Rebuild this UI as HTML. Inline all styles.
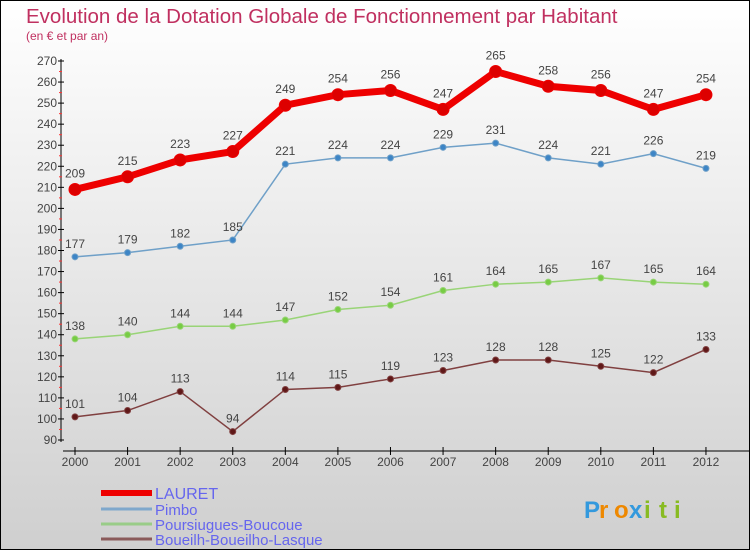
<!DOCTYPE html>
<html><head><meta charset="utf-8"><style>
body{margin:0}
#c{width:748px;height:548px;border:1px solid #000;background:linear-gradient(#fff,#cfcfcf);position:relative;overflow:hidden;font-family:"Liberation Sans",sans-serif}
</style></head><body>
<div id="c">
<svg id="s" width="748" height="548"></svg>
</div>
<script>
const years=[2000,2001,2002,2003,2004,2005,2006,2007,2008,2009,2010,2011,2012];
const lauret=[209,215,223,227,249,254,256,247,265,258,256,247,254];
const pimbo=[177,179,182,185,221,224,224,229,231,224,221,226,219];
const pours=[138,140,144,144,147,152,154,161,164,165,167,165,164];
const boue=[101,104,113,94,114,115,119,123,128,128,125,122,133];
const yTicks=[90,100,110,120,130,140,150,160,170,180,190,200,210,220,230,240,250,260,270];
const NS="http://www.w3.org/2000/svg";
const s=document.getElementById('s');
const X=i=>74+i*52.58;
const Y=v=>439-(v-90)*(379/180);
function el(t,a,p){const e=document.createElementNS(NS,t);for(const k in a)e.setAttribute(k,a[k]);(p||s).appendChild(e);return e;}
function txt(x,y,str,a){const e=el('text',Object.assign({x:x,y:y},a));e.textContent=str;return e;}
let t=txt(25,22,'Evolution de la Dotation Globale de Fonctionnement par Habitant',{fill:'#c03060','font-size':20.5});

t=txt(25,39,'(en € et par an)',{fill:'#c03060','font-size':12});

let ax=el('g',{});
el('line',{x1:60,y1:58,x2:60,y2:441,stroke:'#000'},ax);
yTicks.forEach(v=>{el('line',{x1:57,y1:Y(v),x2:63,y2:Y(v),stroke:'#000'},ax);
 if(v<270)el('line',{x1:58,y1:Y(v+5),x2:61,y2:Y(v+5),stroke:'#f33'},ax);
 txt(56,Y(v)+4,v,{'text-anchor':'end','font-size':12,fill:'#444'},ax);});
let xa=el('g',{});
el('line',{x1:62,y1:450,x2:748,y2:450,stroke:'#000'},xa);
years.forEach((y,i)=>{el('line',{x1:X(i),y1:446,x2:X(i),y2:454,stroke:'#000'},xa);
 txt(X(i),465,y,{'text-anchor':'middle','font-size':12,fill:'#444'},xa);});
function series(name,d,col,w,r,dot){
 const g=el('g',{});
 el('polyline',{points:d.map((v,i)=>X(i)+','+Y(v)).join(' '),fill:'none',stroke:col,'stroke-width':w},g);
 d.forEach((v,i)=>{const c=el('circle',{cx:X(i),cy:Y(v),r:r,fill:dot,stroke:col},g);
  
  txt(X(i),Y(v)-(r+6),v,{'text-anchor':'middle','font-size':12,fill:'#444'},g);});
}
series('lauret-series',lauret,'#ee0000',7,6,'#dd0000');
series('pimbo-series',pimbo,'#6fa0c8',1.5,3,'#3d85c6');
series('poursiugues-series',pours,'#99d477',1.5,3,'#77cc44');
series('boueilh-series',boue,'#804040',1.5,3,'#601818');
const leg=[['LAURET','#ee0000',6,492,16],['Pimbo','#7fa8cc',3,508,15],['Poursiugues-Boucoue','#99cc88',3,523,15],['Boueilh-Boueilho-Lasque','#8a5a5a',3,538,15]];
leg.forEach(l=>{const g=el('g',{});
 el('line',{x1:100,y1:l[3],x2:151,y2:l[3],stroke:l[1],'stroke-width':l[2]},g);
 txt(154,l[3]+6,l[0],{fill:'#6666ee','font-size':l[4]},g);});
let p=el('g',{});
[['P','#3399dd'],['r','#ee8800'],['o','#ee8800'],['x','#3399dd'],['i','#88bb22'],['t','#88bb22'],['i','#88bb22']].forEach((c,i)=>txt(583+i*15,517,c[0],{fill:c[1],'font-size':24,'font-weight':'bold'},p));
</script>
</body></html>
